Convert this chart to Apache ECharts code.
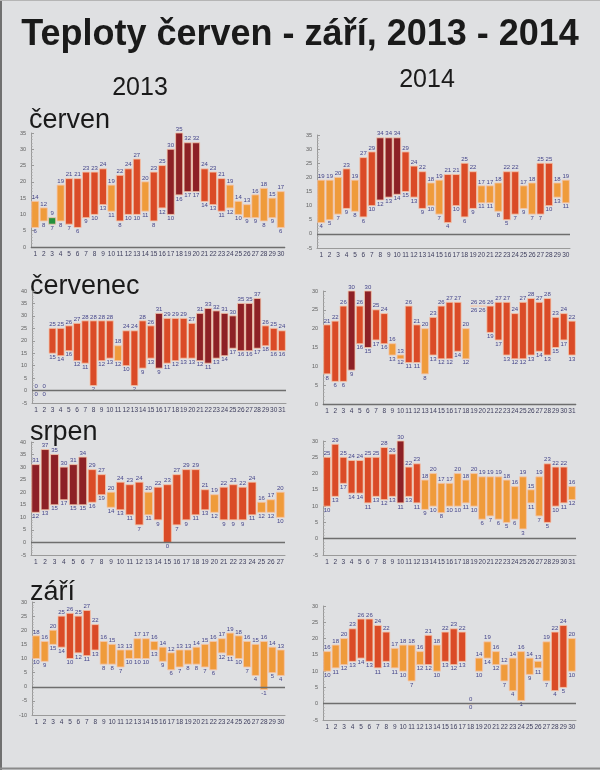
<!DOCTYPE html>
<html>
<head>
<meta charset="utf-8">
<title>Teploty červen - září, 2013 - 2014</title>
<script src="https://cdn.jsdelivr.net/npm/echarts@6/dist/echarts.min.js"></script>
<style>
  html, body { margin: 0; padding: 0; background: #dfe0e2; }
  #chart { width: 600px; height: 770px; }
</style>
</head>
<body>
<div id="chart"></div>
<script>
// dny v měsíci (popisky osy x)
const days = ['1', '2', '3', '4', '5', '6', '7', '8', '9', '10', '11', '12', '13', '14', '15', '16',
  '17', '18', '19', '20', '21', '22', '23', '24', '25', '26', '27', '28', '29', '30', '31'];

// červen
const jun2013Max = [14, 12, 9, 19, 21, 21, 23, 23, 24, 19, 22, 24, 27, 20, 23, 25, 30, 35, 32, 32, 24, 23, 21, 19, 14, 13, 16, 18, 15, 17];
const jun2013Min = [6, 8, 7, 8, 7, 6, 9, 10, 13, 11, 8, 10, 10, 11, 8, 12, 10, 16, 17, 17, 14, 13, 11, 12, 10, 9, 9, 8, 9, 6];
const jun2014Max = [19, 19, 20, 23, 19, 27, 29, 34, 34, 34, 29, 24, 22, 18, 19, 21, 21, 25, 22, 17, 17, 18, 22, 22, 17, 18, 25, 25, 18, 19];
const jun2014Min = [4, 5, 7, 9, 8, 6, 10, 12, 13, 14, 15, 13, 9, 10, 7, 4, 10, 6, 9, 11, 11, 8, 5, 7, 9, 7, 7, 10, 13, 11];

// červenec
const jul2013Max = [0, 0, 25, 25, 26, 27, 28, 28, 28, 28, 18, 24, 24, 28, 26, 31, 29, 29, 29, 27, 31, 33, 32, 31, 30, 35, 35, 37, 26, 25, 24];
const jul2013Min = [0, 0, 15, 14, 16, 12, 11, 2, 12, 13, 12, 10, 2, 9, 13, 9, 11, 12, 13, 13, 12, 11, 13, 14, 17, 16, 16, 17, 18, 16, 16];
const jul2014Max = [21, 22, 26, 30, 26, 30, 25, 24, 16, 13, 26, 21, 20, 23, 26, 27, 27, 20, 26, 26, 26, 27, 27, 24, 27, 28, 27, 28, 23, 24, 22];
const jul2014Min = [8, 6, 6, 9, 16, 15, 17, 16, 13, 12, 11, 11, 8, 13, 12, 12, 14, 12, 26, 26, 19, 17, 13, 12, 12, 13, 14, 13, 15, 17, 13];

// srpen
const aug2013Max = [31, 37, 35, 30, 31, 34, 29, 27, 20, 24, 23, 24, 20, 22, 23, 27, 29, 29, 21, 19, 22, 23, 22, 24, 16, 17, 20];
const aug2013Min = [12, 13, 15, 17, 15, 15, 16, 19, 14, 13, 11, 7, 11, 9, 0, 7, 9, 11, 13, 12, 9, 9, 9, 11, 12, 12, 10];
const aug2014Max = [25, 29, 25, 24, 24, 25, 25, 28, 26, 30, 22, 23, 18, 20, 17, 17, 20, 18, 20, 19, 19, 19, 18, 16, 19, 15, 19, 23, 22, 22, 16];
const aug2014Min = [10, 13, 17, 14, 14, 11, 13, 12, 13, 11, 13, 11, 9, 10, 8, 10, 10, 11, 10, 6, 7, 6, 5, 6, 3, 11, 7, 5, 10, 11, 12];

// září
const sep2013Max = [18, 16, 20, 25, 26, 25, 27, 22, 16, 15, 13, 13, 17, 17, 16, 14, 12, 13, 13, 14, 15, 16, 17, 19, 18, 16, 15, 16, 14, 13];
const sep2013Min = [10, 9, 15, 14, 10, 12, 11, 13, 8, 8, 7, 10, 10, 10, 13, 9, 6, 7, 8, 8, 7, 6, 12, 11, 10, 7, 4, -1, 5, 4];
const sep2014Max = [16, 18, 20, 23, 26, 26, 24, 22, 17, 18, 18, 16, 21, 18, 22, 23, 22, 0, 14, 19, 16, 12, 14, 16, 14, 13, 19, 22, 24, 20];
const sep2014Min = [10, 11, 12, 13, 14, 13, 11, 13, 11, 10, 7, 12, 12, 10, 13, 12, 13, 0, 10, 14, 12, 7, 4, 1, 9, 11, 7, 4, 5, 10];

// rozmístění jednotlivých grafů
const panels = [
  { max: jun2013Max, min: jun2013Min, left: 31, top: 133, width: 254, height: 114, yMin: 0, yMax: 35 },
  { max: jun2014Max, min: jun2014Min, left: 317, top: 135, width: 253, height: 113, yMin: -5, yMax: 35 },
  { max: jul2013Max, min: jul2013Min, left: 32, top: 291, width: 254, height: 112, yMin: -5, yMax: 40 },
  { max: jul2014Max, min: jul2014Min, left: 323, top: 291, width: 253, height: 113, yMin: 0, yMax: 30 },
  { max: aug2013Max, min: aug2013Min, left: 31, top: 442, width: 254, height: 113, yMin: -5, yMax: 40 },
  { max: aug2014Max, min: aug2014Min, left: 323, top: 441, width: 253, height: 114, yMin: -5, yMax: 30 },
  { max: sep2013Max, min: sep2013Min, left: 32, top: 602, width: 253, height: 113, yMin: -10, yMax: 30 },
  { max: sep2014Max, min: sep2014Min, left: 323, top: 606, width: 253, height: 114, yMin: -5, yMax: 30 }
];

const FONT = '"Liberation Sans", Arial, sans-serif';

// barva podle maximální teploty
function colorFor(hi) {
  if (hi >= 30) return '#8d2126';
  if (hi >= 21) return '#da4b27';
  if (hi >= 10) return '#ef9b3b';
  return '#23903c';
}

// sloupec od minima do maxima + popisky
function renderRange(params, api) {
  const idx = api.value(0);
  const lo = api.value(1);
  const hi = api.value(2);
  const top = api.coord([idx, hi]);
  const bot = api.coord([idx, lo]);
  const w = api.size([1, 0])[0] * 0.84;
  return {
    type: 'group',
    children: [
      {
        type: 'rect',
        shape: { x: top[0] - w / 2, y: top[1], width: w, height: bot[1] - top[1] },
        style: { fill: colorFor(hi), stroke: '#f6c4a8', lineWidth: 0.8 }
      },
      {
        type: 'text',
        style: { text: String(hi), x: top[0], y: top[1] - 1, align: 'center', verticalAlign: 'bottom',
          font: '6px ' + FONT, fill: '#45458a' }
      },
      {
        type: 'text',
        style: { text: String(lo), x: bot[0], y: bot[1] + 1, align: 'center', verticalAlign: 'top',
          font: '6px ' + FONT, fill: '#45458a' }
      }
    ]
  };
}

const grid = [], xAxis = [], yAxis = [], series = [];
panels.forEach((p, i) => {
  grid.push({ left: p.left, top: p.top, width: p.width, height: p.height });
  xAxis.push({
    type: 'category', gridIndex: i, data: days.slice(0, p.max.length),
    axisLine: { onZero: false, lineStyle: { color: '#9a9a9a', width: 1 } },
    axisTick: { inside: true, length: 2, lineStyle: { color: '#9a9a9a' } },
    axisLabel: { interval: 0, fontSize: 6.5, color: '#3c3c5c', margin: 4, fontFamily: FONT }
  });
  yAxis.push({
    type: 'value', gridIndex: i, min: p.yMin, max: p.yMax, interval: 5,
    axisLine: { show: true, lineStyle: { color: '#9a9a9a', width: 1 } },
    axisTick: { show: true, inside: true, length: 3, lineStyle: { color: '#9a9a9a' } },
    minorTick: { show: true, splitNumber: 5, length: 1.5, lineStyle: { color: '#a5a5a5' } },
    splitLine: { show: false },
    axisLabel: { fontSize: 5.5, color: '#606060', margin: 5, fontFamily: FONT }
  });
  series.push({
    type: 'custom', xAxisIndex: i, yAxisIndex: i,
    renderItem: renderRange,
    encode: { x: 0, y: [1, 2] },
    data: p.max.map((hi, d) => [d, p.min[d], hi]),
    markLine: {
      silent: true, symbol: 'none', label: { show: false },
      lineStyle: { color: '#6e6e6e', width: 1.3, type: 'solid' },
      data: [{ yAxis: 0 }]
    },
    z: 3
  });
});

function label(text, x, y, size, weight, align) {
  return {
    type: 'text', x: x, y: y,
    style: { text: text, font: weight + ' ' + size + 'px ' + FONT, fill: '#1a1a1a',
      align: align, verticalAlign: 'bottom' }
  };
}

const chart = echarts.init(document.getElementById('chart'), null, { renderer: 'canvas' });
chart.setOption({
  backgroundColor: '#dfe0e2',
  animation: false,
  graphic: [
    label('Teploty červen - září, 2013 - 2014', 300, 53, 36, 'bold', 'center'),
    label('2013', 140, 101, 25, 'normal', 'center'),
    label('2014', 427, 93, 25, 'normal', 'center'),
    label('červen', 29, 134, 27, 'normal', 'left'),
    label('červenec', 30, 300, 27, 'normal', 'left'),
    label('srpen', 30, 446, 27, 'normal', 'left'),
    label('září', 30, 606, 27, 'normal', 'left'),
    { type: 'line', shape: { x1: 1, y1: 0, x2: 1, y2: 770 }, style: { stroke: '#707070', lineWidth: 2 } },
    { type: 'line', shape: { x1: 0, y1: 0.5, x2: 600, y2: 0.5 }, style: { stroke: '#b5b5b5', lineWidth: 1 } },
    { type: 'line', shape: { x1: 0, y1: 768.5, x2: 600, y2: 768.5 }, style: { stroke: '#8a8a8a', lineWidth: 2 } }
  ],
  grid: grid,
  xAxis: xAxis,
  yAxis: yAxis,
  series: series
});
</script>
</body>
</html>
